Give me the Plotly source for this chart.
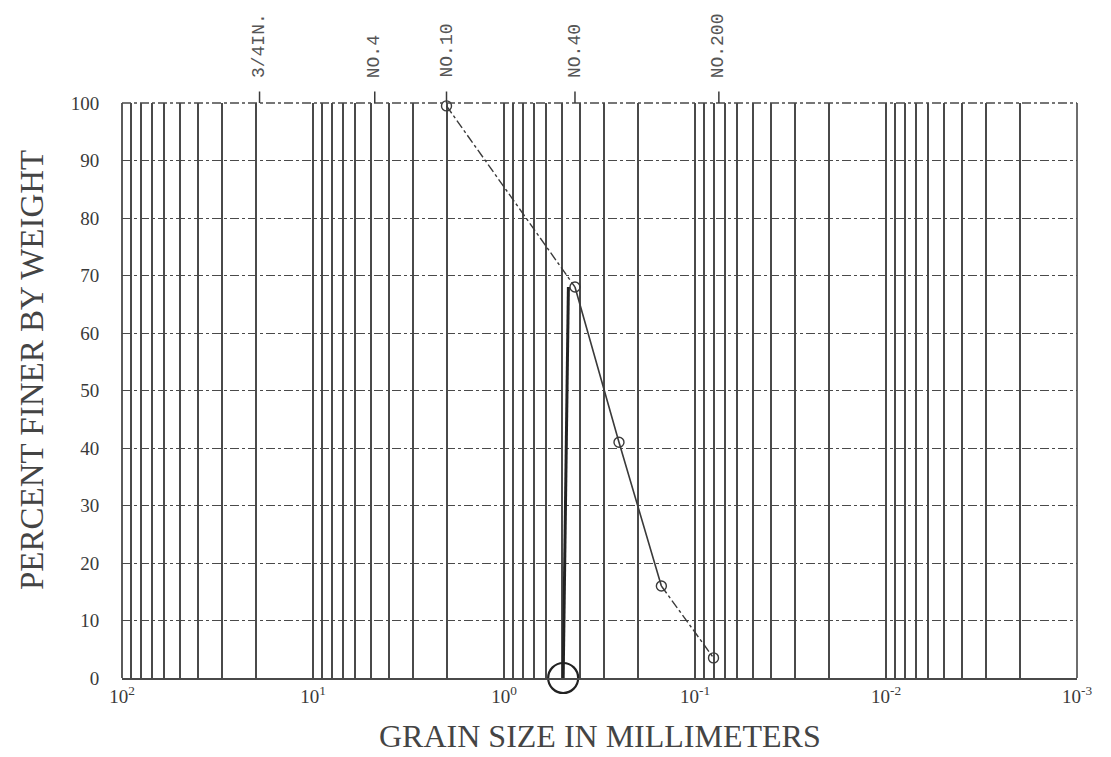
import math
import plotly.graph_objects as go

# ---- data ----
grain_size_mm = [2.0, 0.425, 0.25, 0.15, 0.08]
percent_finer = [99.5, 68, 41, 16, 3.5]

sieve_labels = ["3/4IN.", "NO.4", "NO.10", "NO.40", "NO.200"]
sieve_sizes_mm = [19.05, 4.75, 2.0, 0.425, 0.075]

decade_values = [100, 10, 1, 0.1, 0.01, 0.001]
decade_labels = ["10<sup>2</sup>", "10<sup>1</sup>", "10<sup>0</sup>",
                 "10<sup>-1</sup>", "10<sup>-2</sup>", "10<sup>-3</sup>"]
y_ticks = [0, 10, 20, 30, 40, 50, 60, 70, 80, 90, 100]

# hand-drawn mark on the scan
hand_mark_mm = [0.46, 0.49]
hand_mark_pct = [68, 0]

INK = "#3a3a3a"
GRID = "#4a4a4a"
SERIF = "Liberation Serif, Times New Roman, serif"

# vertical grid at every 1..9 x 10^n
grid_vals, grid_text = [], []
for i, exp in enumerate(range(2, -4, -1)):
    base = 10.0 ** exp
    for k in range(1, 10):
        v = k * base
        if v > 100 * 1.0001 or v < 0.001 * 0.9999:
            continue
        grid_vals.append(v)
        grid_text.append(decade_labels[i] if k == 1 else "")

fig = go.Figure()

# dash-dot upper part
fig.add_trace(go.Scatter(x=grain_size_mm[0:2], y=percent_finer[0:2], mode="lines",
                         line=dict(color=INK, width=1.4, dash="dashdot"),
                         hoverinfo="skip", showlegend=False))
# solid middle part
fig.add_trace(go.Scatter(x=grain_size_mm[1:4], y=percent_finer[1:4], mode="lines",
                         line=dict(color=INK, width=1.6),
                         hoverinfo="skip", showlegend=False))
# dashed lower part
fig.add_trace(go.Scatter(x=grain_size_mm[3:5], y=percent_finer[3:5], mode="lines",
                         line=dict(color=INK, width=1.4, dash="dashdot"),
                         hoverinfo="skip", showlegend=False))
# markers
fig.add_trace(go.Scatter(x=grain_size_mm, y=percent_finer, mode="markers",
                         marker=dict(symbol="circle-open", size=10, color=INK,
                                     line=dict(width=1.4, color=INK)),
                         cliponaxis=False, showlegend=False))
# hand-drawn vertical line and circle
fig.add_trace(go.Scatter(x=hand_mark_mm, y=hand_mark_pct, mode="lines",
                         line=dict(color="#222", width=3),
                         hoverinfo="skip", showlegend=False))
fig.add_trace(go.Scatter(x=hand_mark_mm[1:], y=hand_mark_pct[1:], mode="markers",
                         marker=dict(symbol="circle-open", size=30, color="#222",
                                     line=dict(width=2.2, color="#222")),
                         cliponaxis=False, hoverinfo="skip", showlegend=False))

# frame: left/right edges and dash-dot top edge
fig.add_shape(type="line", xref="paper", yref="paper", x0=0, x1=0, y0=0, y1=1,
              line=dict(color=GRID, width=1.8))
fig.add_shape(type="line", xref="paper", yref="paper", x0=1, x1=1, y0=0, y1=1,
              line=dict(color=GRID, width=1.6))
fig.add_shape(type="line", xref="paper", yref="paper", x0=0, x1=1, y0=1, y1=1,
              line=dict(color=GRID, width=1.4, dash="dashdot"))

# sieve labels and small ticks above the plot
for lab, s in zip(sieve_labels, sieve_sizes_mm):
    fig.add_shape(type="line", xref="x", yref="paper", x0=s, x1=s, y0=1.0, y1=1.02,
                  line=dict(color=INK, width=1.5))
    fig.add_annotation(x=math.log10(s), xref="x", y=1.04, yref="paper",
                       text=lab, textangle=-90, showarrow=False,
                       xanchor="center", yanchor="bottom",
                       font=dict(family="Liberation Mono, DejaVu Sans Mono, monospace",
                                 size=18, color="#555"))

# axis titles
fig.add_annotation(xref="paper", yref="paper", x=0.5, y=-0.1,
                   text="GRAIN SIZE IN MILLIMETERS", showarrow=False,
                   xanchor="center", yanchor="middle",
                   font=dict(family=SERIF, size=32, color="#444"))
fig.add_annotation(xref="paper", yref="paper", x=-0.094, y=0.536,
                   text="PERCENT FINER BY WEIGHT", showarrow=False, textangle=-90,
                   xanchor="center", yanchor="middle",
                   font=dict(family=SERIF, size=33, color="#444"))

fig.update_xaxes(type="log", range=[2, -3], tickmode="array",
                 tickvals=grid_vals, ticktext=grid_text,
                 showgrid=True, gridcolor=GRID, gridwidth=1.6,
                 showline=True, linecolor=GRID, linewidth=1.6, mirror=False,
                 ticks="", zeroline=False,
                 tickfont=dict(family=SERIF, size=19, color=INK))
fig.update_yaxes(range=[0, 100], tickmode="array", tickvals=y_ticks,
                 showgrid=True, gridcolor=GRID, gridwidth=1.4, griddash="dashdot",
                 showline=False, zeroline=False,
                 ticks="outside", ticklen=18, tickcolor="rgba(0,0,0,0)",
                 tickfont=dict(family=SERIF, size=19, color=INK))

# the page body has an 8px margin, so the figure is sized to fit the window
fig.update_layout(width=1103, height=749,
                  margin=dict(l=114, r=34, t=95, b=79),
                  paper_bgcolor="white", plot_bgcolor="white",
                  showlegend=False)

fig.write_html("out.html", config={"displayModeBar": False})
